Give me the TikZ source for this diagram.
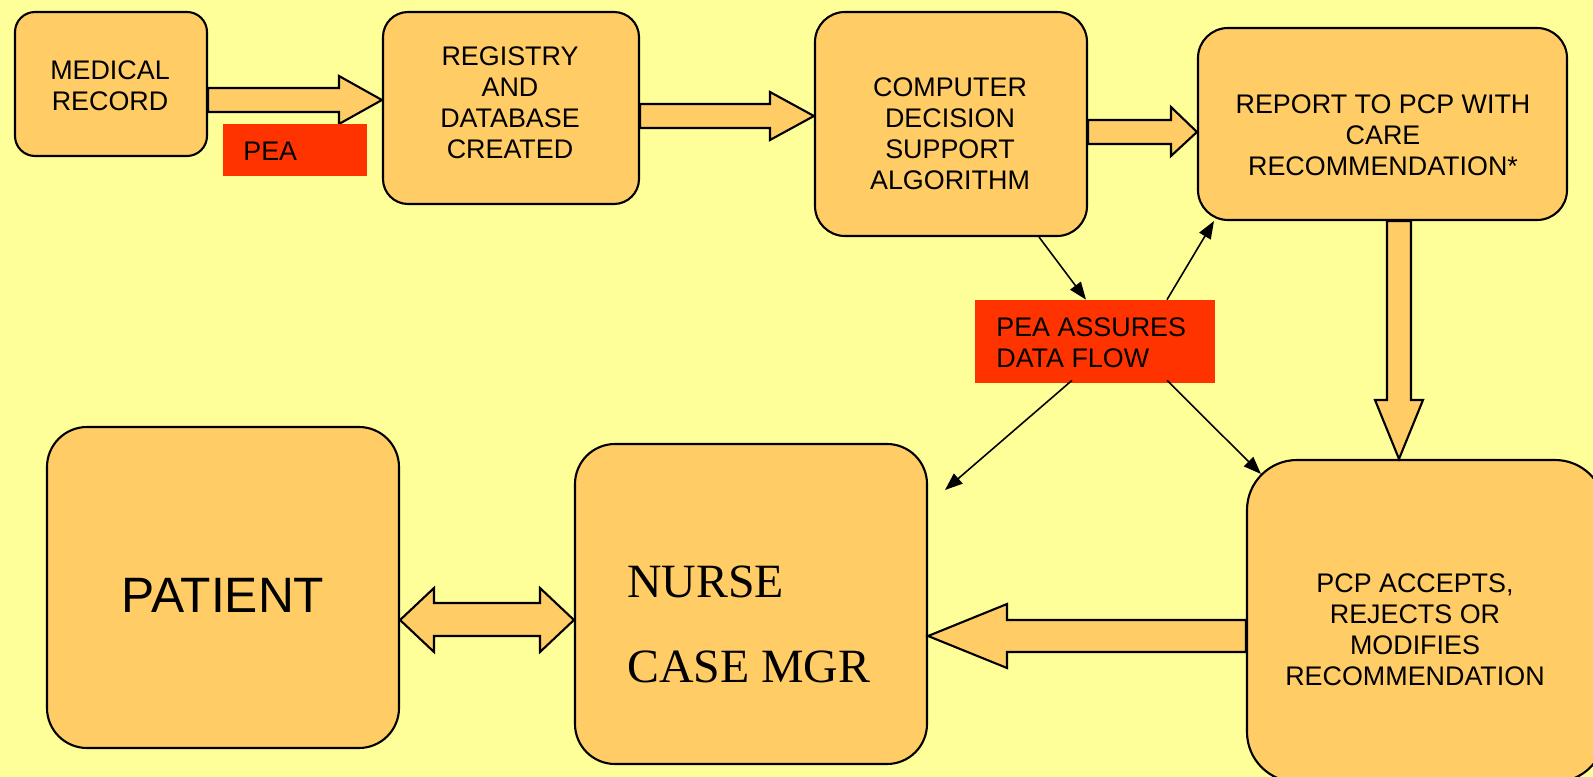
\documentclass[tikz,border=0pt]{standalone}
\usepackage{fontspec}
\setmainfont{Liberation Sans}
\newfontfamily\nursefont{Liberation Serif}
\usetikzlibrary{arrows.meta,calc}
\newdimen\px \px=0.02cm
\definecolor{bgyellow}{HTML}{FFFF99}
\definecolor{boxorange}{HTML}{FFCC66}
\definecolor{peared}{HTML}{FF3300}
\tikzset{
  box/.style={draw=black, line width=1.2pt, fill=boxorange, rounded corners=#1, inner sep=0pt},
  box/.default=25\px,
  txt/.style={font=\fontsize{15.3}{17.6}\selectfont, align=center, inner sep=0pt},
  redbox/.style={fill=peared, inner sep=0pt},
  blockarrow/.style={draw=black, line width=1.2pt, fill=boxorange, line join=miter},
  link/.style={draw=black, line width=0.9pt, -{Triangle[length=10pt,width=7.5pt]}},
}
\begin{document}
\begin{tikzpicture}[x=0.02cm, y=-0.02cm]
\fill[bgyellow] (0,0) rectangle (1593,777);
\clip (0,0) rectangle (1593,777);

% boxes
\node[box=20\px, minimum width=192\px, minimum height=144\px] (med) at (111,84) {};
\node[box=25\px, minimum width=256\px, minimum height=192\px] (reg) at (511,108) {};
\node[box=30\px, minimum width=272\px, minimum height=224\px] (comp) at (951,124) {};
\node[box=30\px, minimum width=369\px, minimum height=192\px] (rep) at (1382.5,124) {};
\node[box=50\px, minimum width=358\px, minimum height=322\px] (pcp) at (1426,621) {};
\node[box=40\px, minimum width=352\px, minimum height=321\px] (pat) at (223,587.5) {};
\node[box=40\px, minimum width=352\px, minimum height=320\px] (nur) at (751,604) {};

% texts
\node[txt] (medt) at (110,86) {MEDICAL\\RECORD};
\node[txt] (regt) at (510,103) {REGISTRY\\AND\\DATABASE\\CREATED};
\node[txt] (compt) at (950,134) {COMPUTER\\DECISION\\SUPPORT\\ALGORITHM};
\node[txt] (rept) at (1383,135) {REPORT TO PCP WITH\\CARE\\RECOMMENDATION*};
\node[txt] (pcpt) at (1415,630) {PCP ACCEPTS,\\REJECTS OR\\MODIFIES\\RECOMMENDATION};
\node[font=\fontsize{28.3}{31}\selectfont, inner sep=0pt] (patt) at (223,595) {PATIENT};
\node[font=\nursefont\fontsize{27.2}{48.4}\selectfont, align=left, anchor=west, inner sep=0pt] (nurt) at (627,624) {NURSE\\CASE MGR};

% block arrows
\filldraw[blockarrow] (med.east |- 0,88) -- (339,88) -- (339,76) -- (reg.west |- 0,100) -- (339,124) -- (339,112) -- (med.east |- 0,112) -- cycle;
\filldraw[blockarrow] (reg.east |- 0,104) -- (770,104) -- (770,92) -- (comp.west |- 0,116) -- (770,140) -- (770,128) -- (reg.east |- 0,128) -- cycle;
\filldraw[blockarrow] (comp.east |- 0,120) -- (1171,120) -- (1171,107) -- (rep.west |- 0,132) -- (1171,156) -- (1171,144) -- (comp.east |- 0,144) -- cycle;
\filldraw[blockarrow] (1387,0 |- rep.south) -- (1387,400) -- (1375,400) -- (1399,0 |- pcp.north) -- (1423,400) -- (1411,400) -- (1411,0 |- rep.south) -- cycle;
\filldraw[blockarrow] (pcp.west |- 0,620) -- (1007,620) -- (1007,604) -- (nur.east |- 0,636) -- (1007,668) -- (1007,652) -- (pcp.west |- 0,652) -- cycle;
\filldraw[blockarrow] (pat.east |- 0,620) -- (434,588) -- (434,603) -- (540,603) -- (540,588) -- (nur.west |- 0,620) -- (540,652) -- (540,636) -- (434,636) -- (434,652) -- cycle;

% red labels
\node[redbox, minimum width=144\px, minimum height=52\px] (pea1) at (295,150) {};
\node[txt, anchor=west] (pea1t) at (243,151) {PEA};
\node[redbox, minimum width=240\px, minimum height=83\px] (pea2) at (1095,341.5) {};
\node[txt, align=left, anchor=west] (pea2t) at (996,342.5) {PEA ASSURES\\DATA FLOW};

% thin connectors
\coordinate (c3end) at (945,490);
\draw[link] ($(comp.south)+(88,0)$) -- ($(pea2.north)+(-9,0)$);
\draw[link] ($(pea2.north)+(72,0)$) -- ($(rep.south west)+(17,0)$);
\draw[link] ($(pea2.south)+(-23,-3)$) -- (c3end);
\draw[link] ($(pea2.south)+(72,-3)$) -- ($(pcp.north west)+(15,15)$);
\end{tikzpicture}
\end{document}
